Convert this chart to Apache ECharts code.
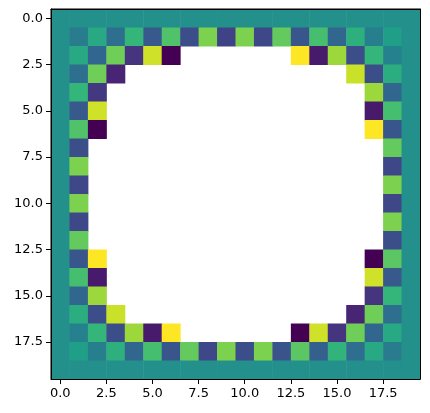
<!DOCTYPE html>
<html><head><meta charset="utf-8">
<script src="https://cdn.jsdelivr.net/npm/echarts@6/dist/echarts.min.js"></script>
<style>html,body{margin:0;padding:0;background:#fff}#c{width:430px;height:413px}</style>
</head><body><div id="c"></div>
<script>
const n = null;
const row0  = [0.5,0.5,0.5,0.5,0.5,0.5,0.5,0.5,0.5,0.5,0.5,0.5,0.5,0.5,0.5,0.5,0.5,0.5,0.5,0.5];
const row1  = [0.5,0.42,0.6,0.36,0.66,0.28,0.72,0.24,0.8,0.2,0.8,0.22,0.76,0.27,0.7,0.33,0.63,0.43,0.56,0.5];
const row2  = [0.5,0.6,0.33,0.78,0.15,0.93,0.0,n,n,n,n,n,n,1.0,0.07,0.85,0.24,0.66,0.44,0.5];
const row3  = [0.5,0.36,0.78,0.1,n,n,n,n,n,n,n,n,n,n,n,n,0.92,0.24,0.62,0.5];
const row4  = [0.5,0.66,0.17,n,n,n,n,n,n,n,n,n,n,n,n,n,n,0.85,0.33,0.5];
const row5  = [0.5,0.28,0.93,n,n,n,n,n,n,n,n,n,n,n,n,n,n,0.07,0.7,0.5];
const row6  = [0.5,0.72,0.0,n,n,n,n,n,n,n,n,n,n,n,n,n,n,1.0,0.27,0.5];
const row7  = [0.5,0.24,n,n,n,n,n,n,n,n,n,n,n,n,n,n,n,n,0.76,0.5];
const row8  = [0.5,0.8,n,n,n,n,n,n,n,n,n,n,n,n,n,n,n,n,0.22,0.5];
const row9  = [0.5,0.22,n,n,n,n,n,n,n,n,n,n,n,n,n,n,n,n,0.8,0.5];
const row10 = [0.5,0.8,n,n,n,n,n,n,n,n,n,n,n,n,n,n,n,n,0.22,0.5];
const row11 = [0.5,0.22,n,n,n,n,n,n,n,n,n,n,n,n,n,n,n,n,0.8,0.5];
const row12 = [0.5,0.76,n,n,n,n,n,n,n,n,n,n,n,n,n,n,n,n,0.24,0.5];
const row13 = [0.5,0.27,1.0,n,n,n,n,n,n,n,n,n,n,n,n,n,n,0.0,0.74,0.5];
const row14 = [0.5,0.7,0.07,n,n,n,n,n,n,n,n,n,n,n,n,n,n,0.93,0.28,0.5];
const row15 = [0.5,0.33,0.85,n,n,n,n,n,n,n,n,n,n,n,n,n,n,0.15,0.66,0.5];
const row16 = [0.5,0.62,0.24,0.92,n,n,n,n,n,n,n,n,n,n,n,n,0.1,0.78,0.36,0.5];
const row17 = [0.5,0.44,0.66,0.24,0.85,0.07,1.0,n,n,n,n,n,n,0.0,0.93,0.15,0.78,0.33,0.6,0.5];
const row18 = [0.5,0.56,0.43,0.63,0.33,0.7,0.27,0.76,0.22,0.8,0.24,0.8,0.26,0.74,0.3,0.65,0.36,0.6,0.42,0.5];
const row19 = row0.slice();
const rows = [row0,row1,row2,row3,row4,row5,row6,row7,row8,row9,row10,row11,row12,row13,row14,row15,row16,row17,row18,row19];
const tickValues = [0,2.5,5,7.5,10,12.5,15,17.5];
const viridis = ['#440154','#482878','#3e4989','#31688e','#26828e','#1f9e89','#35b779','#6ece58','#b5de2b','#fde725'];

const data = [];
rows.forEach((r,y)=>r.forEach((v,x)=>{ if(v!==null) data.push([x,y,v]); }));

const axisCommon = {
  type:'value', min:-0.5, max:19.5, splitLine:{show:false}, z:10,
  axisLine:{show:true,onZero:false,lineStyle:{color:'#000',width:1}},
  axisTick:{show:true,length:5,customValues:tickValues,lineStyle:{color:'#000'}},
  axisLabel:{customValues:tickValues,color:'#000',fontFamily:'DejaVu Sans',fontSize:13,
    formatter:v=>v.toFixed(1)}
};
const frameAxis = {type:'value',min:-0.5,max:19.5,z:10,splitLine:{show:false},axisTick:{show:false},axisLabel:{show:false},
  axisLine:{show:true,onZero:false,lineStyle:{color:'#000',width:1}}};
const chart = echarts.init(document.getElementById('c'),null,{renderer:'canvas'});
chart.setOption({
  animation:false,
  grid:{left:51,right:10,top:9,bottom:34,show:true,borderColor:'#000',borderWidth:1,backgroundColor:'#fff'},
  xAxis:[Object.assign({},axisCommon,{position:'bottom'}), Object.assign({},frameAxis,{position:'top'})],
  yAxis:[Object.assign({},axisCommon,{inverse:true,position:'left'}), Object.assign({},frameAxis,{inverse:true,position:'right'})],
  visualMap:{show:false,min:0,max:1,dimension:2,seriesIndex:0,inRange:{color:viridis}},
  series:[{
    type:'custom', data:data, encode:{x:0,y:1}, xAxisIndex:0, yAxisIndex:0, z:1,
    renderItem:(params,api)=>{
      const x=api.value(0), y=api.value(1);
      const p1=api.coord([x-0.5,y-0.5]), p2=api.coord([x+0.5,y+0.5]);
      return {type:'rect',shape:{x:p1[0],y:p1[1],width:p2[0]-p1[0]+0.5,height:p2[1]-p1[1]+0.5},
        style:{fill:api.visual('color')}};
    }
  }]
});
</script></body></html>
